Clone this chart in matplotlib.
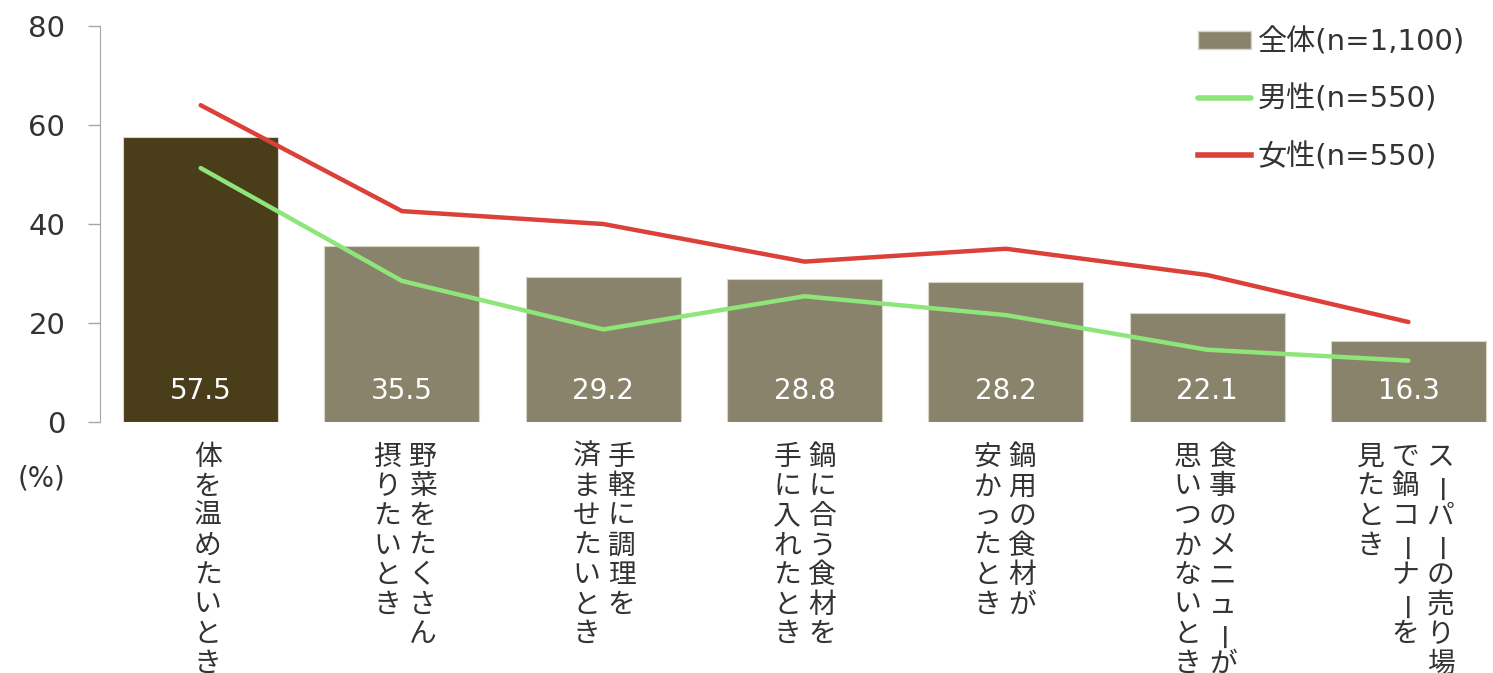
import matplotlib
matplotlib.use("Agg")
import matplotlib.pyplot as plt
from matplotlib.patches import Patch
from matplotlib.lines import Line2D

plt.rcParams['font.family'] = ['DejaVu Sans', 'Noto Sans CJK JP']

# データ
categories = [
    ["体を温めたいとき"],
    ["野菜をたくさん", "摂りたいとき"],
    ["手軽に調理を", "済ませたいとき"],
    ["鍋に合う食材を", "手に入れたとき"],
    ["鍋用の食材が", "安かったとき"],
    ["食事のメニューが", "思いつかないとき"],
    ["スーパーの売り場", "で鍋コーナーを", "見たとき"],
]
total = [57.5, 35.5, 29.2, 28.8, 28.2, 22.1, 16.3]
male = [51.3, 28.5, 18.7, 25.4, 21.6, 14.6, 12.4]
female = [64.0, 42.6, 40.0, 32.4, 35.0, 29.7, 20.2]
legend_labels = ["全体(n=1,100)", "男性(n=550)", "女性(n=550)"]

text_color = '#333333'
bar_color = '#8a836b'
first_color = '#4a3d1a'
green = '#8ee67a'
red = '#db4039'

fig = plt.figure(figsize=(14.93, 6.73), dpi=100)
ax = fig.add_axes([100 / 1493, 1 - 422 / 673, 1 - 100 / 1493, (422 - 26) / 673])

x = list(range(len(total)))
colors = [first_color] + [bar_color] * (len(total) - 1)
ax.bar(x, total, width=0.77, color=colors, edgecolor='#d8d4c8', linewidth=0.8, zorder=2)
ax.plot(x, male, color=green, linewidth=3.2, solid_capstyle='round', zorder=3)
ax.plot(x, female, color=red, linewidth=3.2, solid_capstyle='round', zorder=3)

for i, v in enumerate(total):
    ax.text(i, 6.3, f"{v:.1f}", ha='center', va='center', color='white', fontsize=20, zorder=4)

ax.set_xlim(-0.5, 6.42)
ax.set_ylim(0, 80)
ax.set_yticks([0, 20, 40, 60, 80])
ax.tick_params(axis='y', length=9, width=1, color='#a6a6a6', pad=16,
               labelsize=21, labelcolor=text_color)
ax.set_xticks([])
for s in ['top', 'right', 'bottom']:
    ax.spines[s].set_visible(False)
ax.spines['left'].set_color('#a6a6a6')

# 縦書きのカテゴリラベル（右の列から）
shifts = [7, 3, 1, 0, -1, -2, -3]
col_gap = 35
pitch = 29.5
for i, cols in enumerate(categories):
    n = len(cols)
    for k, col in enumerate(cols):
        dx = shifts[i] + ((n - 1) / 2 - k) * col_gap
        for j, ch in enumerate(col):
            # 長音記号は縦向きにする
            if ch == 'ー':
                rot, off = 90, 3
            else:
                rot, off = 0, 0
            ax.annotate(ch, xy=(i, 0), xycoords=ax.get_xaxis_transform(),
                        xytext=(dx + off, -35 - j * pitch), textcoords='offset pixels',
                        ha='center', va='center', rotation=rot,
                        fontsize=20, color=text_color, annotation_clip=False,
                        family=['Noto Sans CJK JP', 'DejaVu Sans'])

fig.text(41 / 1493, 1 - 478 / 673, "(%)", ha='center', va='center',
         fontsize=20, color=text_color)

handles = [Patch(facecolor=bar_color, edgecolor='#d8d4c8'),
           Line2D([], [], color=green, linewidth=4, solid_capstyle='round'),
           Line2D([], [], color=red, linewidth=4)]
leg = fig.legend(handles, legend_labels, loc='upper left',
                 bbox_to_anchor=(1198 / 1493, 1 - 28 / 673), frameon=False,
                 fontsize=21, handlelength=1.8, handleheight=0.6, handletextpad=0.25,
                 labelspacing=1.0, borderpad=0, borderaxespad=0)
for t in leg.get_texts():
    t.set_color(text_color)

fig.savefig('out.png', dpi=100)
